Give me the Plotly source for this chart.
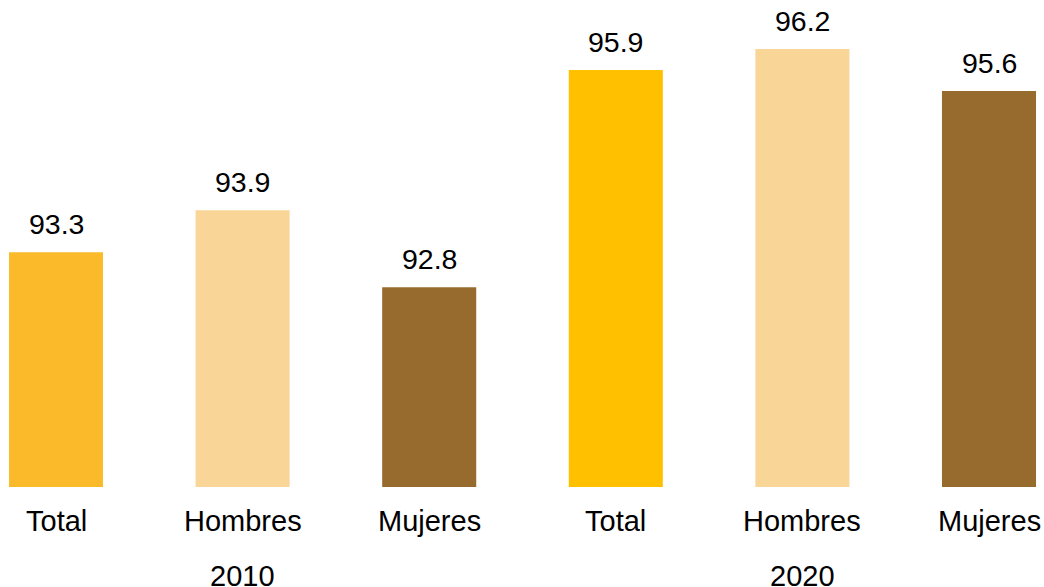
import plotly.graph_objects as go

categories = ["Total", "Hombres", "Mujeres", "Total", "Hombres", "Mujeres"]
years = ["2010", "2020"]
values = [93.3, 93.9, 92.8, 95.9, 96.2, 95.6]
colors = ["#FBBA2A", "#F9D597", "#976B2E", "#FFC000", "#F9D597", "#976B2E"]

BASE = 89.95
FONT = "Liberation Sans, Arial, sans-serif"
xpos = list(range(len(values)))

fig = go.Figure()
fig.add_trace(go.Bar(
    x=xpos, y=[v - BASE for v in values], base=BASE,
    marker=dict(color=colors, line=dict(width=0)),
    width=0.504, hoverinfo="skip",
))

annotations = []
for i, v in enumerate(values):
    annotations.append(dict(
        x=i, y=v, xref="x", yref="y", text=f"{v:.1f}", showarrow=False,
        yanchor="middle", yshift=28, font=dict(family=FONT, size=28.5, color="#000000"),
    ))
for i, c in enumerate(categories):
    annotations.append(dict(
        x=i, y=0, xref="x", yref="paper", text=c, showarrow=False,
        yanchor="middle", yshift=-34, font=dict(family=FONT, size=29, color="#000000"),
    ))
for j, yr in enumerate(years):
    annotations.append(dict(
        x=1 + 3 * j, y=0, xref="x", yref="paper", text=yr, showarrow=False,
        yanchor="middle", yshift=-89, font=dict(family=FONT, size=29, color="#000000"),
    ))

fig.update_layout(
    width=1044, height=587,
    margin=dict(l=0, r=0, t=20, b=100),
    paper_bgcolor="white", plot_bgcolor="white",
    showlegend=False,
    xaxis=dict(range=[-0.3001, 5.2947], showticklabels=False, showgrid=False,
               zeroline=False, showline=False, ticks=""),
    yaxis=dict(range=[BASE, BASE + 467.3 / 70.13], showticklabels=False, showgrid=False,
               zeroline=False, showline=False, ticks=""),
    annotations=annotations,
)

fig.write_html(
    "out.html",
    config={"displayModeBar": False},
    post_script="document.body.style.margin='0';document.body.style.overflow='hidden';",
)
